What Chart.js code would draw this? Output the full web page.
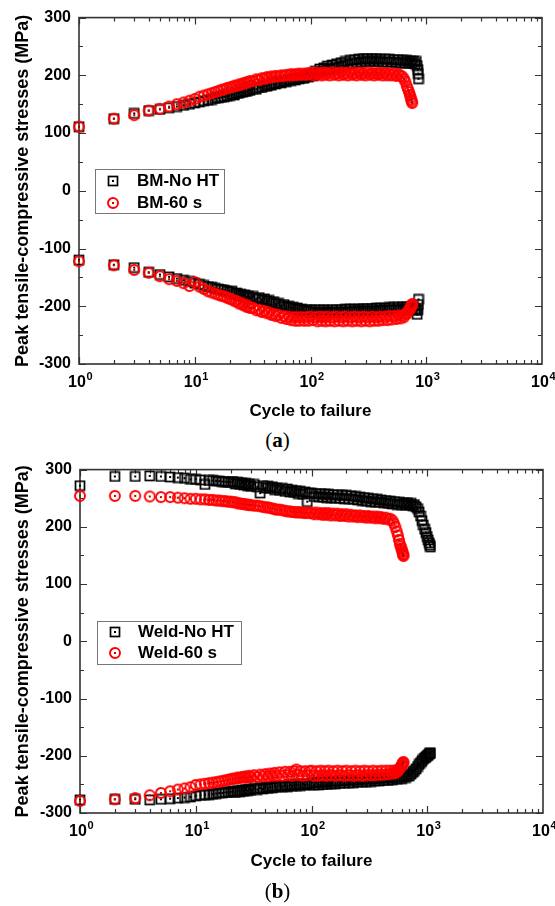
<!DOCTYPE html>
<html>
<head>
<meta charset="utf-8">
<script src="https://cdn.jsdelivr.net/npm/chart.js@4.4.0/dist/chart.umd.min.js"></script>
<style>
  body { margin: 0; background: #fff; width: 555px; height: 906px; position: relative; overflow: hidden; }
  .panel { position: absolute; left: 0; width: 555px; }
  #wrapA { top: 0; height: 425px; }
  #wrapB { top: 452px; height: 428px; }
  .cap { position: absolute; width: 555px; left: 0; text-align: center; font-family: "Liberation Serif", "DejaVu Serif", serif; font-size: 21px; color: #000; line-height: 24px; }
  .cap b { font-weight: bold; }
</style>
</head>
<body>
<div class="panel" id="wrapA"><canvas id="chartA" width="555" height="425"></canvas></div>
<div class="cap" style="top:428px">(<b>a</b>)</div>
<div class="panel" id="wrapB"><canvas id="chartB" width="555" height="428"></canvas></div>
<div class="cap" style="top:879px">(<b>b</b>)</div>

<script>
// ---- data: cycle number and peak stress (MPa) ----

// first cycles, shared by every series
const cycLow = [1,2,3,4,5,6,7,8,9,10,11,12,13,14,15,16,17,18,19,20,
  21,22,23,24,25,26,27,28,29,30,
  32,34,36,38,40,42,44,46,48,50,
  53,56,59,62,65,68,71,74,77,80,
  84,88,92,96];

// (a) base metal
const cycA_noHT_hi = [100,105,110,115,120,125,130,135,140,147,154,161,168,176,184,192,200,210,220,230,
  240,250,262,274,286,298,310,325,340,355,370,385,400,420,440,460,480,500,525,550,
  575,600,625,650,675,700,725,750,775,800,820,835,845,852,858];
const tenA_noHT = [111,125,134,139,141,144,146,148,150,152,154,156,157,158,160,161,162,163,164,165,
  167,166,169,169,171,171,173,172,175,174,
  177,176,179,179,182,181,184,183,186,185,
  188,187,190,189,192,191,193,192,195,194,
  196,195,198,197,
  202,199,207,203,211,206,213,208,216,211,
  218,213,220,215,222,217,224,219,226,221,
  227,222,228,223,229,224,229,224,229,224,
  229,224,228,223,228,223,228,223,227,222,
  227,222,226,221,226,221,225,221,225,220,
  224,217,210,203,194];
const comA_noHT = [-120,-128,-133,-141,-145,-149,-152,-155,-157,-160,-162,-164,-166,-167,-169,-170,-171,-172,-174,-175,
  -174,-178,-177,-181,-179,-182,-180,-184,-182,-185,
  -183,-187,-185,-189,-187,-191,-190,-194,-192,-196,
  -195,-199,-197,-201,-200,-203,-202,-205,-203,-206,
  -205,-208,-206,-209,
  -206,-210,-206,-211,-207,-211,-206,-211,-207,-210,
  -206,-211,-206,-210,-206,-210,-205,-210,-205,-209,
  -205,-209,-205,-209,-204,-208,-204,-208,-204,-208,
  -203,-207,-203,-207,-203,-207,-202,-206,-202,-206,
  -202,-206,-201,-205,-201,-205,-201,-204,-200,-204,
  -207,-214,-206,-197,-188];

const cycA_60s_hi = [100,105,110,115,120,125,130,135,140,147,154,161,168,176,184,192,200,210,220,230,
  240,250,262,274,286,298,310,325,340,355,370,385,400,420,440,460,480,500,525,550,
  575,600,620,640,660,680,695,710,722,733,742,750,756];
const tenA_60s = [111,125,131,139,142,146,150,153,156,159,163,165,167,169,171,173,175,176,178,179,
  180,182,182,184,184,186,186,188,188,190,
  190,193,192,195,194,197,196,198,197,199,
  198,200,199,201,200,202,200,202,201,203,
  201,203,201,204,
  203,200,205,201,204,200,205,201,204,200,
  205,201,204,200,205,201,204,200,205,201,
  204,200,205,201,204,200,205,201,204,200,
  204,201,204,200,204,200,203,200,203,199,
  202,199,198,194,189,181,176,171,166,162,
  158,155,152];
const comA_60s = [-122,-129,-137,-142,-148,-153,-156,-160,-165,-158,-166,-170,-174,-176,-178,-180,-182,-183,-185,-187,
  -188,-191,-191,-195,-194,-198,-197,-201,-199,-203,
  -203,-207,-206,-210,-208,-212,-211,-215,-213,-217,
  -215,-220,-217,-222,-218,-224,-219,-225,-219,-225,
  -219,-225,-219,-225,
  -218,-224,-219,-226,-218,-225,-219,-226,-218,-225,
  -219,-226,-218,-225,-219,-226,-218,-225,-219,-226,
  -218,-225,-219,-226,-218,-225,-219,-226,-218,-225,
  -219,-225,-218,-224,-218,-224,-217,-223,-217,-222,
  -216,-221,-216,-219,-214,-213,-209,-207,-205,-202,
  -200,-198,-196];

// (b) weld
const cycB_noHT_hi = [100,105,110,115,120,125,130,135,140,147,154,161,168,176,184,192,200,210,220,230,
  240,250,262,274,286,298,310,325,340,355,370,385,400,420,440,460,480,500,525,550,
  575,600,625,650,675,700,725,750,775,800,825,850,875,900,925,950,975,1000,1020,1040,
  1055,1065];
const tenB_noHT = [272,288,288,289,288,287,286,285,283,283,282,274,281,281,280,280,279,279,278,278,
  279,275,278,274,277,273,276,272,275,271,
  274,270,259,272,268,271,267,270,265,268,
  264,267,262,266,261,264,260,263,258,262,
  257,261,244,259,
  259,253,258,252,258,252,257,251,257,251,
  256,250,256,250,255,249,255,249,254,248,
  253,247,252,246,251,245,250,244,249,243,
  248,243,247,242,246,241,245,240,244,239,
  243,239,242,238,242,238,241,237,239,235,
  232,226,219,211,203,196,190,183,177,172,
  168,165];
const comB_noHT = [-277,-276,-276,-277,-276,-275,-274,-273,-272,-270,-269,-268,-268,-267,-266,-265,-265,-264,-264,-263,
  -262,-264,-261,-263,-260,-262,-259,-261,-258,-260,
  -257,-259,-256,-258,-255,-257,-254,-256,-253,-255,
  -252,-254,-252,-254,-251,-253,-250,-252,-250,-252,
  -249,-251,-249,-251,
  -247,-251,-247,-251,-246,-250,-246,-250,-245,-249,
  -245,-249,-244,-248,-244,-248,-243,-247,-243,-247,
  -242,-246,-242,-246,-241,-245,-241,-245,-240,-244,
  -240,-244,-239,-243,-239,-243,-238,-242,-238,-241,
  -237,-240,-236,-238,-235,-235,-232,-229,-226,-223,
  -219,-215,-212,-209,-206,-204,-202,-200,-199,-197,
  -196,-195];

const cycB_60s_hi = [100,105,110,115,120,125,130,135,140,147,154,161,168,176,184,192,200,210,220,230,
  240,250,262,274,286,298,310,325,340,355,370,385,400,420,440,460,480,500,515,530,
  545,558,570,580,590,598,605,611,616,620,623];
const tenB_60s = [254,254,254,253,252,252,251,250,249,249,248,248,247,247,246,246,245,245,244,244,
  243,243,241,241,240,240,239,239,238,238,
  237,237,236,235,234,234,233,232,231,230,
  230,229,228,227,227,226,226,225,226,225,
  225,224,225,224,
  225,222,225,222,224,221,224,221,224,220,
  223,220,223,219,222,219,222,218,221,218,
  220,217,220,217,219,216,219,216,218,215,
  218,215,217,214,216,213,214,211,206,200,
  192,185,177,170,166,162,159,156,153,151,
  149];
const comB_60s = [-279,-276,-274,-269,-265,-262,-259,-257,-255,-251,-250,-249,-248,-247,-246,-245,-244,-243,-242,-241,
  -240,-240,-238,-239,-237,-238,-236,-238,-235,-237,
  -234,-237,-233,-236,-232,-236,-231,-235,-230,-235,
  -229,-235,-228,-234,-228,-235,-227,-224,-234,-227,
  -235,-227,-234,-227,
  -226,-235,-227,-235,-226,-234,-227,-235,-226,-234,
  -227,-235,-226,-234,-227,-235,-226,-234,-227,-235,
  -226,-234,-227,-235,-226,-234,-227,-234,-226,-234,
  -227,-233,-226,-233,-226,-232,-226,-231,-226,-230,
  -225,-227,-223,-222,-220,-218,-216,-214,-213,-212,
  -211];

// axis ticks
const xExponents = [0, 1, 2, 3, 4];
const yMin = -300, yMax = 300, yStep = 100, yMinorStep = 50;

const FONT = '"Liberation Sans", Arial, sans-serif';

// hollow square with a dot in the middle
function squareMark() {
  const c = document.createElement('canvas');
  c.width = 12; c.height = 12;
  const g = c.getContext('2d');
  g.strokeStyle = '#000';
  g.lineWidth = 1.7;
  g.strokeRect(1.5, 1.5, 9, 9);
  g.fillStyle = '#000';
  g.fillRect(5, 5, 2, 2);
  return c;
}

// hollow red circle with a dot in the middle
function circleMark() {
  const c = document.createElement('canvas');
  c.width = 14; c.height = 14;
  const g = c.getContext('2d');
  g.strokeStyle = '#ff0000';
  g.lineWidth = 1.9;
  g.beginPath();
  g.arc(7, 7, 5, 0, Math.PI * 2);
  g.stroke();
  g.fillStyle = '#c00000';
  g.fillRect(6, 6, 2, 2);
  return c;
}

const sq = squareMark();
const ci = circleMark();

function pts(cyc, vals) {
  return cyc.map((c, i) => ({ x: c, y: vals[i] }));
}

// frame with inward ticks on all four sides, plus 10^n labels
const framePlugin = {
  id: 'frame',
  beforeDatasetsDraw(chart) {
    const { ctx, chartArea: a, scales: { x, y } } = chart;
    ctx.save();
    ctx.strokeStyle = '#333';
    ctx.lineWidth = 1.2;
    ctx.beginPath();
    for (let k = xExponents[0]; k < xExponents[xExponents.length - 1]; k++) {
      for (let m = 1; m <= 9; m++) {
        const px = Math.round(x.getPixelForValue(m * Math.pow(10, k))) + 0.5;
        const len = m === 1 ? 7 : 4;
        ctx.moveTo(px, a.bottom); ctx.lineTo(px, a.bottom - len);
        ctx.moveTo(px, a.top); ctx.lineTo(px, a.top + len);
      }
    }
    for (let v = yMin; v <= yMax; v += yMinorStep) {
      const py = Math.round(y.getPixelForValue(v)) + 0.5;
      const len = v % yStep === 0 ? 7 : 4;
      ctx.moveTo(a.left, py); ctx.lineTo(a.left + len, py);
      ctx.moveTo(a.right, py); ctx.lineTo(a.right - len, py);
    }
    ctx.stroke();

    ctx.lineWidth = 1.6;
    ctx.strokeRect(a.left, a.top, a.right - a.left, a.bottom - a.top);

    // x tick labels with superscript exponent
    ctx.fillStyle = '#000';
    ctx.textBaseline = 'middle';
    ctx.textAlign = 'left';
    const ly = a.bottom + 19;
    xExponents.forEach(e => {
      const px = x.getPixelForValue(Math.pow(10, e));
      ctx.font = 'bold 16px ' + FONT;
      const wb = ctx.measureText('10').width;
      const x0 = px - wb / 2 - 2;
      ctx.fillText('10', x0, ly);
      ctx.font = 'bold 11px ' + FONT;
      ctx.fillText(String(e), x0 + wb + 0.5, ly - 6);
    });
    ctx.restore();
  }
};

// boxed legend inside the plot
const boxLegend = {
  id: 'boxLegend',
  afterDatasetsDraw(chart, args, opts) {
    const { ctx } = chart;
    ctx.save();
    ctx.fillStyle = '#fff';
    ctx.fillRect(opts.left, opts.top, opts.width, opts.height);
    ctx.strokeStyle = '#777';
    ctx.lineWidth = 1;
    ctx.strokeRect(opts.left + 0.5, opts.top + 0.5, opts.width, opts.height);
    ctx.font = 'bold 17px ' + FONT;
    ctx.fillStyle = '#000';
    ctx.textBaseline = 'middle';
    const items = chart.data.datasets.filter(d => d.inLegend);
    items.forEach((d, i) => {
      const yy = opts.top + opts.firstRow + i * opts.rowGap;
      const img = d.pointStyle;
      ctx.drawImage(img, opts.left + opts.markX - img.width / 2, yy - img.height / 2);
      ctx.fillText(d.label, opts.left + opts.textX, yy);
    });
    ctx.restore();
  }
};

function makeChart(id, sets, lay) {
  const black = { pointStyle: sq, pointRadius: 5, showLine: false, clip: false, order: 2 };
  const red = { pointStyle: ci, pointRadius: 5, showLine: false, clip: false, order: 1 };
  return new Chart(document.getElementById(id), {
    type: 'scatter',
    data: {
      datasets: [
        Object.assign({ label: sets.names[0], data: pts(sets.cyc0, sets.ten0), inLegend: true }, black),
        Object.assign({ label: sets.names[0], data: pts(sets.cyc0, sets.com0) }, black),
        Object.assign({ label: sets.names[1], data: pts(sets.cyc1, sets.ten1), inLegend: true }, red),
        Object.assign({ label: sets.names[1], data: pts(sets.cyc1, sets.com1) }, red)
      ]
    },
    options: {
      responsive: false,
      animation: false,
      layout: { padding: { top: lay.top, right: lay.right, left: 0, bottom: 0 } },
      plugins: {
        legend: { display: false },
        tooltip: { enabled: false },
        boxLegend: lay.legend
      },
      scales: {
        x: {
          type: 'logarithmic',
          min: 1,
          max: 10000,
          grid: { display: false, drawTicks: false },
          border: { display: false },
          ticks: { display: false },
          title: {
            display: true,
            text: 'Cycle to failure',
            color: '#000',
            font: { family: FONT, size: 17, weight: 'bold' },
            padding: { top: 0, bottom: lay.xTitlePad }
          },
          afterFit: s => { s.height = lay.xHeight; }
        },
        y: {
          min: yMin,
          max: yMax,
          grid: { display: false, drawTicks: false },
          border: { display: false },
          ticks: {
            stepSize: yStep,
            padding: 8,
            color: '#000',
            font: { family: FONT, size: 16, weight: 'bold' }
          },
          title: {
            display: true,
            text: 'Peak tensile-compressive stresses (MPa)',
            color: '#000',
            font: { family: FONT, size: 18, weight: 'bold' },
            padding: { top: 12, bottom: 0 }
          },
          afterFit: s => { s.width = lay.yWidth; }
        }
      }
    },
    plugins: [framePlugin, boxLegend]
  });
}

makeChart('chartA', {
  names: ['BM-No HT', 'BM-60 s'],
  cyc0: cycLow.concat(cycA_noHT_hi), ten0: tenA_noHT, com0: comA_noHT,
  cyc1: cycLow.concat(cycA_60s_hi), ten1: tenA_60s, com1: comA_60s
}, {
  top: 16, right: 13, yWidth: 79, xHeight: 61, xTitlePad: 3,
  legend: { left: 95, top: 169, width: 129, height: 44, markX: 18, textX: 42, firstRow: 12, rowGap: 22 }
});

makeChart('chartB', {
  names: ['Weld-No HT', 'Weld-60 s'],
  cyc0: cycLow.concat(cycB_noHT_hi), ten0: tenB_noHT, com0: comB_noHT,
  cyc1: cycLow.concat(cycB_60s_hi), ten1: tenB_60s, com1: comB_60s
}, {
  top: 16, right: 12, yWidth: 80, xHeight: 67, xTitlePad: 8,
  legend: { left: 97, top: 169, width: 144, height: 43, markX: 18, textX: 41, firstRow: 11, rowGap: 21 }
});
</script>
</body>
</html>
